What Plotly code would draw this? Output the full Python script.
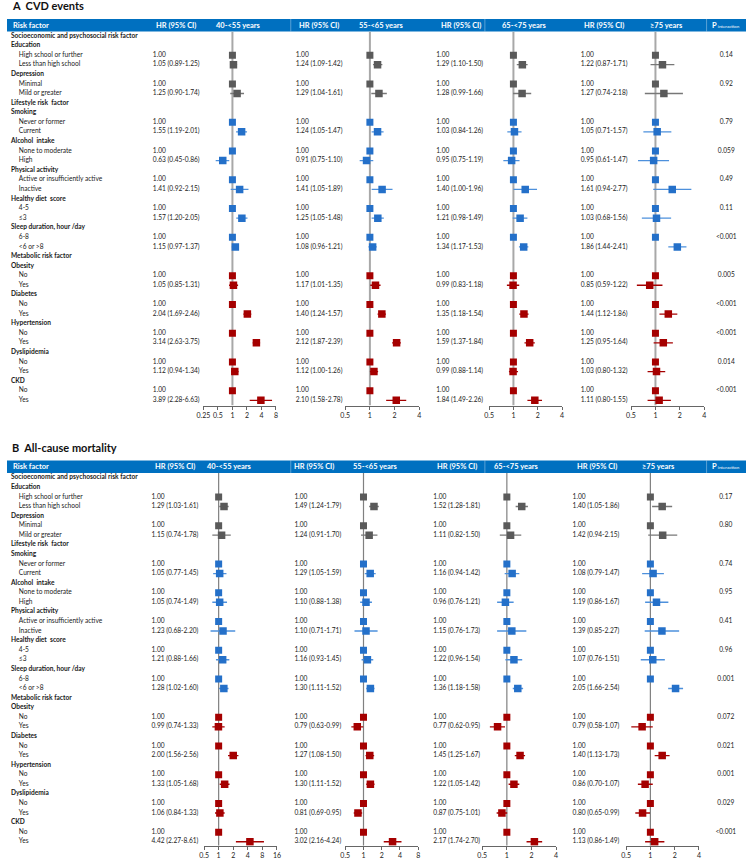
import math
import plotly.graph_objects as go

W, H = 750, 859
FONT = "Lato"

# ---------------- data ----------------
section_names = ["Socioeconomic and psychosocial risk factor", "Lifestyle risk  factor", "Metabolic risk factor"]
factor_names = [
    ["Education", "Depression"],
    ["Smoking", "Alcohol  intake", "Physical activity", "Healthy diet  score", "Sleep duration, hour /day"],
    ["Obesity", "Diabetes", "Hypertension", "Dyslipidemia", "CKD"],
]
level_names = [
    ("High school or further", "Less than high school"),
    ("Minimal", "Mild or greater"),
    ("Never or former", "Current"),
    ("None to moderate", "High"),
    ("Active or insufficiently active", "Inactive"),
    ("4-5", "≤3"),
    ("6-8", "<6 or >8"),
    ("No", "Yes"),
    ("No", "Yes"),
    ("No", "Yes"),
    ("No", "Yes"),
    ("No", "Yes"),
]
age_groups = ["40-<55 years", "55-<65 years", "65-<75 years", "≥75 years"]

# (HR, lower, upper) for the non-reference level of each factor
cvd_40 = [(1.05, 0.89, 1.25), (1.25, 0.90, 1.74), (1.55, 1.19, 2.01), (0.63, 0.45, 0.86), (1.41, 0.92, 2.15),
          (1.57, 1.20, 2.05), (1.15, 0.97, 1.37), (1.05, 0.85, 1.31), (2.04, 1.69, 2.46), (3.14, 2.63, 3.75),
          (1.12, 0.94, 1.34), (3.89, 2.28, 6.63)]
cvd_55 = [(1.24, 1.09, 1.42), (1.29, 1.04, 1.61), (1.24, 1.05, 1.47), (0.91, 0.75, 1.10), (1.41, 1.05, 1.89),
          (1.25, 1.05, 1.48), (1.08, 0.96, 1.21), (1.17, 1.01, 1.35), (1.40, 1.24, 1.57), (2.12, 1.87, 2.39),
          (1.12, 1.00, 1.26), (2.10, 1.58, 2.78)]
cvd_65 = [(1.29, 1.10, 1.50), (1.28, 0.99, 1.66), (1.03, 0.84, 1.26), (0.95, 0.75, 1.19), (1.40, 1.00, 1.96),
          (1.21, 0.98, 1.49), (1.34, 1.17, 1.53), (0.99, 0.83, 1.18), (1.35, 1.18, 1.54), (1.59, 1.37, 1.84),
          (0.99, 0.88, 1.14), (1.84, 1.49, 2.26)]
cvd_75 = [(1.22, 0.87, 1.71), (1.27, 0.74, 2.18), (1.05, 0.71, 1.57), (0.95, 0.61, 1.47), (1.61, 0.94, 2.77),
          (1.03, 0.68, 1.56), (1.86, 1.44, 2.41), (0.85, 0.59, 1.22), (1.44, 1.12, 1.86), (1.25, 0.95, 1.64),
          (1.03, 0.80, 1.32), (1.11, 0.80, 1.55)]
cvd_p = ["0.14", "0.92", "0.79", "0.059", "0.49", "0.11", "<0.001", "0.005", "<0.001", "<0.001", "0.014", "<0.001"]

mort_40 = [(1.29, 1.03, 1.61), (1.15, 0.74, 1.78), (1.05, 0.77, 1.45), (1.05, 0.74, 1.49), (1.23, 0.68, 2.20),
           (1.21, 0.88, 1.66), (1.28, 1.02, 1.60), (0.99, 0.74, 1.33), (2.00, 1.56, 2.56), (1.33, 1.05, 1.68),
           (1.06, 0.84, 1.33), (4.42, 2.27, 8.61)]
mort_55 = [(1.49, 1.24, 1.79), (1.24, 0.91, 1.70), (1.29, 1.05, 1.59), (1.10, 0.88, 1.38), (1.10, 0.71, 1.71),
           (1.16, 0.93, 1.45), (1.30, 1.11, 1.52), (0.79, 0.63, 0.99), (1.27, 1.08, 1.50), (1.30, 1.11, 1.52),
           (0.81, 0.69, 0.95), (3.02, 2.16, 4.24)]
mort_65 = [(1.52, 1.28, 1.81), (1.11, 0.82, 1.50), (1.16, 0.94, 1.42), (0.96, 0.76, 1.21), (1.15, 0.76, 1.73),
           (1.22, 0.96, 1.54), (1.36, 1.18, 1.58), (0.77, 0.62, 0.95), (1.45, 1.25, 1.67), (1.22, 1.05, 1.42),
           (0.87, 0.75, 1.01), (2.17, 1.74, 2.70)]
mort_75 = [(1.40, 1.05, 1.86), (1.42, 0.94, 2.15), (1.08, 0.79, 1.47), (1.19, 0.86, 1.67), (1.39, 0.85, 2.27),
           (1.07, 0.76, 1.51), (2.05, 1.66, 2.54), (0.79, 0.58, 1.07), (1.40, 1.13, 1.73), (0.86, 0.70, 1.07),
           (0.80, 0.65, 0.99), (1.13, 0.86, 1.49)]
mort_p = ["0.17", "0.80", "0.74", "0.95", "0.41", "0.96", "0.001", "0.072", "0.021", "0.001", "0.029", "<0.001"]

cvd_ticks = [[0.25, 0.5, 1, 2, 4, 8], [0.5, 1, 2, 4], [0.5, 1, 2, 4], [0.5, 1, 2, 4]]
mort_ticks = [[0.5, 1, 2, 4, 8, 16], [0.5, 1, 2, 4, 8], [0.5, 1, 2, 4], [0.5, 1, 2, 4]]

# ---------------- styles ----------------
marker_colors = ["#5a5a5a", "#2470c9", "#a50000"]
ci_colors = ["#777777", "#4d90dc", "#a50000"]
BAR = "#0070c0"

# build the row list: (label, kind, section, factor index)
rows = []
fi = 0
for s, sec in enumerate(section_names):
    rows.append((sec, "head", s, None))
    for f in factor_names[s]:
        rows.append((f, "head", s, None))
        rows.append((level_names[fi][0], "ref", s, fi))
        rows.append((level_names[fi][1], "cmp", s, fi))
        fi += 1

panels = [
    dict(title="<b>A  CVD events</b>", title_y=6, bar=(19, 31.5), row0=36, step=9.6, axis_y=406,
         data=[cvd_40, cvd_55, cvd_65, cvd_75], p=cvd_p, ticks=cvd_ticks,
         spans=[(199.3, 273), (343.3, 418.3), (489.3, 563.3), (633.3, 707.7)],
         hr_x=[148, 293, 435.7, 582.3], hr_head=[172, 317, 461, 606],
         age_head=[235, 380, 525.5, 669], p_x=730, vline=("#a8a8a8", 2)),
    dict(title="<b>B  All-cause mortality</b>", title_y=448, bar=(461, 473.5), row0=478.3, step=9.59, axis_y=846.7,
         data=[mort_40, mort_55, mort_65, mort_75], p=mort_p, ticks=mort_ticks,
         spans=[(200, 274), (343.3, 417.3), (482.3, 557.3), (628.3, 702.3)],
         hr_x=[146.7, 291.7, 432.7, 574], hr_head=[170, 311.7, 456.7, 599],
         age_head=[225.5, 374, 517, 661.5], p_x=729.5, vline=("#808080", 1.2)),
]


def py(p):
    return 1 - p / H


fig = go.Figure()
layout = {}
shapes = []
annotations = []

for k, pn in enumerate(panels):
    yref = "y" if k == 0 else "y2"
    ykey = "yaxis" if k == 0 else "yaxis2"
    tnum = 1 + 5 * k
    tref = "x" if tnum == 1 else f"x{tnum}"
    tkey = "xaxis" if tnum == 1 else f"xaxis{tnum}"

    ytop = (pn["bar"][1] - pn["row0"]) / pn["step"]
    ybot = (pn["axis_y"] - pn["row0"]) / pn["step"]
    layout[ykey] = dict(domain=[py(pn["axis_y"]), py(pn["bar"][1])], range=[ybot, ytop],
                        visible=False, anchor=tref)
    layout[tkey] = dict(domain=[0, 1], range=[0, W], visible=False, anchor=yref)

    # header bar
    shapes.append(dict(type="rect", xref="paper", yref="paper", x0=0, x1=1,
                       y0=py(pn["bar"][1]), y1=py(pn["bar"][0]), fillcolor=BAR, line=dict(width=0), layer="below"))
    for sx in [288, 485, 710]:
        shapes.append(dict(type="line", xref="paper", yref="paper", x0=sx / W, x1=sx / W,
                           y0=py(pn["bar"][1]), y1=py(pn["bar"][0]),
                           line=dict(color="rgba(255,255,255,0.35)", width=1)))
    hy = py((pn["bar"][0] + pn["bar"][1]) / 2)
    hfont = dict(family=FONT, size=7.5, color="white")
    annotations.append(dict(x=4 / W, y=hy, xref="paper", yref="paper", text="<b>Risk factor</b>",
                            showarrow=False, xanchor="left", yanchor="middle", font=hfont))
    for a in range(4):
        annotations.append(dict(x=pn["hr_head"][a] / W, y=hy, xref="paper", yref="paper", text="<b>HR (95% CI)</b>",
                                showarrow=False, xanchor="center", yanchor="middle", font=hfont))
        annotations.append(dict(x=pn["age_head"][a] / W, y=hy, xref="paper", yref="paper",
                                text=f"<b>{age_groups[a]}</b>",
                                showarrow=False, xanchor="center", yanchor="middle", font=hfont))
    annotations.append(dict(x=pn["p_x"] / W, y=hy, xref="paper", yref="paper",
                            text="<b>P</b><span style='font-size:4.5px'> interaction</span>",
                            showarrow=False, xanchor="center", yanchor="middle", font=hfont))
    annotations.append(dict(x=3 / W, y=py(pn["title_y"]), xref="paper", yref="paper", text=pn["title"],
                            showarrow=False, xanchor="left", yanchor="middle",
                            font=dict(family=FONT, size=11, color="#111111")))

    # row labels
    lab_x, lab_y, lab_t = [], [], []
    for i, (lab, kind, s, f) in enumerate(rows):
        lab_x.append(4 if kind == "head" else 12)
        lab_y.append(i)
        lab_t.append(f"<b>{lab}</b>" if kind == "head" else lab)
    fig.add_trace(go.Scatter(x=lab_x, y=lab_y, text=lab_t, mode="text", textposition="middle right",
                             textfont=dict(family=FONT, size=6.6, color="#1a1a1a"),
                             xaxis=tref, yaxis=yref, cliponaxis=False, hoverinfo="skip", showlegend=False))

    # p interaction
    p_y = [i for i, r in enumerate(rows) if r[1] == "ref"]
    fig.add_trace(go.Scatter(x=[pn["p_x"]] * len(p_y), y=p_y, text=pn["p"], mode="text",
                             textposition="middle center",
                             textfont=dict(family=FONT, size=6.6, color="#1a1a1a"),
                             xaxis=tref, yaxis=yref, cliponaxis=False, hoverinfo="skip", showlegend=False))

    for a in range(4):
        n = tnum + 1 + a
        xref = f"x{n}"
        lo_t, hi_t = pn["ticks"][a][0], pn["ticks"][a][-1]
        x0, x1 = pn["spans"][a]
        layout[f"xaxis{n}"] = dict(domain=[x0 / W, x1 / W], type="log",
                                   range=[math.log10(lo_t), math.log10(hi_t)], anchor=yref,
                                   tickvals=pn["ticks"][a], ticktext=[f"{t:g}" for t in pn["ticks"][a]],
                                   tickangle=0,
                                   showline=True, linecolor="#666666", linewidth=1, ticks="outside",
                                   ticklen=3, tickcolor="#666666", showgrid=False, zeroline=False,
                                   tickfont=dict(family=FONT, size=7, color="#222222"), fixedrange=True)
        vals = pn["data"][a]

        # HR text column
        hx, hyv, ht = [], [], []
        for i, (lab, kind, s, f) in enumerate(rows):
            if kind == "ref":
                hx.append(pn["hr_x"][a]); hyv.append(i); ht.append("1.00")
            elif kind == "cmp":
                hr, lo, hi = vals[f]
                hx.append(pn["hr_x"][a]); hyv.append(i); ht.append(f"{hr:.2f} ({lo:.2f}-{hi:.2f})")
        fig.add_trace(go.Scatter(x=hx, y=hyv, text=ht, mode="text", textposition="middle right",
                                 textfont=dict(family=FONT, size=6.6, color="#1a1a1a"),
                                 xaxis=tref, yaxis=yref, cliponaxis=False, hoverinfo="skip", showlegend=False))

        # reference line at HR = 1
        fig.add_trace(go.Scatter(x=[1, 1], y=[ytop, ybot], mode="lines",
                                 line=dict(color=pn["vline"][0], width=pn["vline"][1]),
                                 xaxis=xref, yaxis=yref, hoverinfo="skip", showlegend=False))

        for s in range(3):
            ref_y = [i for i, r in enumerate(rows) if r[1] == "ref" and r[2] == s]
            fig.add_trace(go.Scatter(x=[1] * len(ref_y), y=ref_y, mode="markers",
                                     marker=dict(symbol="square", size=7, color=marker_colors[s]),
                                     xaxis=xref, yaxis=yref, showlegend=False))
            cy, cx, cp, cm = [], [], [], []
            for i, r in enumerate(rows):
                if r[1] == "cmp" and r[2] == s:
                    hr, lo, hi = vals[r[3]]
                    cy.append(i); cx.append(hr); cp.append(hi - hr); cm.append(hr - lo)
            fig.add_trace(go.Scatter(x=cx, y=cy, mode="markers",
                                     marker=dict(symbol="square", size=7.5, color=marker_colors[s]),
                                     error_x=dict(type="data", symmetric=False, array=cp, arrayminus=cm,
                                                  color=ci_colors[s], thickness=1.3, width=0),
                                     xaxis=xref, yaxis=yref, showlegend=False))

fig.update_layout(**layout)
fig.update_layout(width=W, height=H, margin=dict(l=0, r=0, t=0, b=0),
                  paper_bgcolor="white", plot_bgcolor="rgba(0,0,0,0)",
                  shapes=shapes, annotations=annotations, showlegend=False,
                  font=dict(family=FONT))
fig.write_html("out.html", config={"displayModeBar": False},
               post_script="document.body.style.margin='0';document.body.style.overflow='hidden';")
